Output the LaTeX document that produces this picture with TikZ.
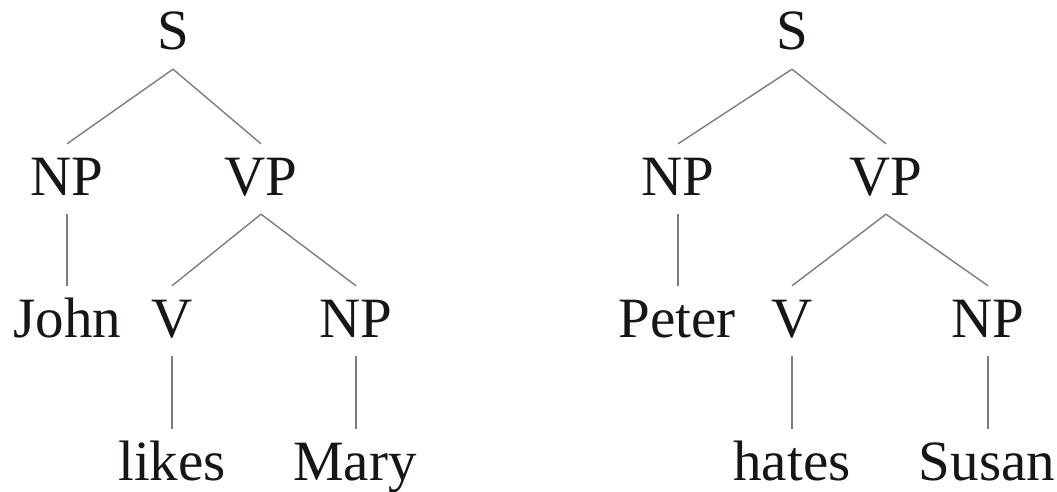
\documentclass[tikz,border=0pt]{standalone}
\usepackage{fontspec}
\setmainfont{Liberation Serif}
\definecolor{edgegray}{RGB}{125,125,125}
\definecolor{inkcol}{RGB}{25,20,25}
\begin{document}
\begin{tikzpicture}[x=1pt,y=-1pt,
  lab/.style={anchor=base,inner xsep=0pt,inner ysep=13pt,text height=38pt,text depth=6pt,
    font=\fontsize{57}{68}\selectfont,text=inkcol},
  edge/.style={draw=edgegray,line width=1.4pt}]
\useasboundingbox (0,0) rectangle (1057,492);
% tree 1
\node[lab] (s1) at (173,50) {S};
\node[lab] (np1) at (67,195) {NP};
\node[lab] (vp1) at (261,195) {VP};
\node[lab] (john) at (67.5,337) {John};
\node[lab] (v1) at (172,337) {V};
\node[lab] (np1b) at (356,337) {NP};
\node[lab] (likes) at (172,480) {likes};
\node[lab] (mary) at (355,480) {Mary};
\draw[edge] (s1.south) -- (np1.north);
\draw[edge] (s1.south) -- (vp1.north);
\draw[edge] (np1.south) -- (np1.south |- john.north);
\draw[edge] (vp1.south) -- (v1.north);
\draw[edge] (vp1.south) -- (np1b.north);
\draw[edge] (v1.south) -- (v1.south |- likes.north);
\draw[edge] (np1b.south) -- (np1b.south |- mary.north);
% tree 2
\node[lab] (s2) at (792,50) {S};
\node[lab] (np2) at (678,195) {NP};
\node[lab] (vp2) at (886,195) {VP};
\node[lab] (peter) at (677,337) {Peter};
\node[lab] (v2) at (792,337) {V};
\node[lab] (np2b) at (988,337) {NP};
\node[lab] (hates) at (792,480) {hates};
\node[lab] (susan) at (987,480) {Susan};
\draw[edge] (s2.south) -- (np2.north);
\draw[edge] (s2.south) -- (vp2.north);
\draw[edge] (np2.south) -- (np2.south |- peter.north);
\draw[edge] (vp2.south) -- (v2.north);
\draw[edge] (vp2.south) -- (np2b.north);
\draw[edge] (v2.south) -- (v2.south |- hates.north);
\draw[edge] (np2b.south) -- (np2b.south |- susan.north);
\end{tikzpicture}
\end{document}
